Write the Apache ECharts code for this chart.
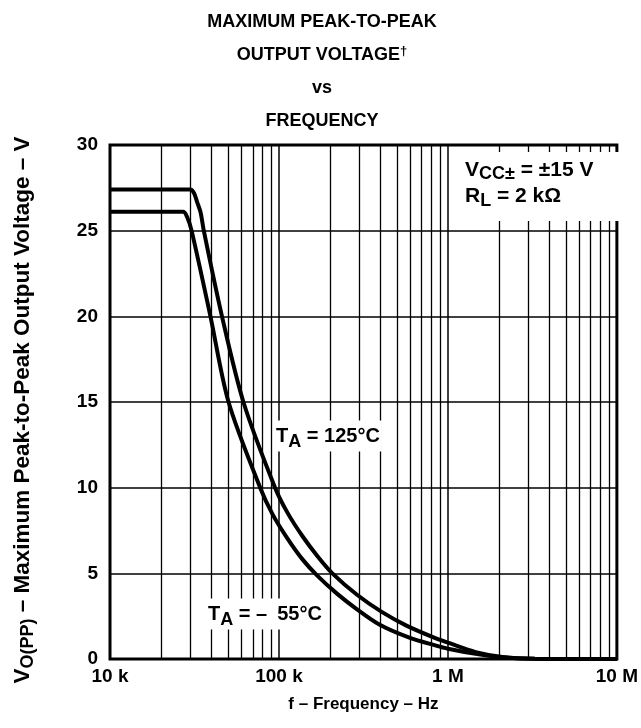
<!DOCTYPE html>
<html>
<head>
<meta charset="utf-8">
<script src="https://cdn.jsdelivr.net/npm/echarts@6/dist/echarts.min.js"></script>
<style>
html,body{margin:0;padding:0;background:#fff;}
#chart{width:641px;height:728px;}
</style>
</head>
<body>
<div id="chart"></div>
<script>
// ---- data ----
const freq125 = [10000, 29800, 31400, 32700, 34400, 35900, 46000, 61600, 94800, 112900, 138200, 169100, 207000, 289700, 405700, 568000, 851000, 1000000, 1460000, 2100000, 3270000, 10000000];
const volt125 = [27.4, 27.4, 27.2, 26.7, 26.05, 25.0, 20.0, 15.0, 10.0, 8.5, 7.15, 6.0, 5.0, 3.75, 2.75, 1.95, 1.2, 0.95, 0.4, 0.12, 0.02, 0];
const freqM55 = [10000, 27100, 28600, 30400, 39300, 50300, 77400, 92200, 112900, 138200, 169100, 221300, 289700, 395000, 591000, 851000, 1000000, 1460000, 2100000, 3270000, 10000000];
const voltM55 = [26.1, 26.1, 25.8, 25.0, 20.0, 15.0, 10.0, 8.4, 7.0, 5.8, 4.85, 3.8, 2.9, 2.0, 1.25, 0.78, 0.6, 0.3, 0.1, 0.02, 0];
const xTickValues = [10000, 100000, 1000000, 10000000];
const xTickLabels = ['10 k', '100 k', '1 M', '10 M'];
const minorGridFreqs = [];
[10000, 100000, 1000000].forEach(function (d) { for (let m = 2; m <= 9; m++) minorGridFreqs.push(d * m); });

const FONT = '"Liberation Sans", Arial, Helvetica, sans-serif';
const ES = '\u2002';
const chart = echarts.init(document.getElementById('chart'), null, {renderer: 'canvas'});

function pairs(xs, ys) { return xs.map(function (x, i) { return [x, ys[i]]; }); }
function subStyle(size, drop) {
  return { fontFamily: FONT, fontWeight: 'bold', fontSize: size, fill: '#000', color: '#000', padding: [drop, 0, 0, 0] };
}

const option = {
  backgroundColor: '#fff',
  animation: false,
  title: {
    text: 'MAXIMUM PEAK-TO-PEAK\nOUTPUT VOLTAGE{dag|†}\nvs\nFREQUENCY',
    left: 322, top: 6, textAlign: 'center', padding: 0,
    textStyle: {
      fontFamily: FONT, fontWeight: 'bold', fontSize: 18, color: '#000', lineHeight: 33,
      rich: { dag: { fontFamily: FONT, fontWeight: 'bold', fontSize: 13, color: '#000', padding: [0, 0, 8, 0] } }
    }
  },
  grid: { left: 110, top: 145, width: 513, height: 514, show: true, borderColor: '#000', borderWidth: 3, backgroundColor: 'transparent' },
  xAxis: {
    type: 'log', logBase: 10, min: 10000, max: 10000000,
    name: 'f – Frequency – Hz', nameLocation: 'middle', nameGap: 37,
    nameTextStyle: { fontFamily: FONT, fontWeight: 'bold', fontSize: 17, color: '#000' },
    axisLine: { show: false }, axisTick: { show: false },
    axisLabel: {
      fontFamily: FONT, fontWeight: 'bold', fontSize: 19, color: '#000', margin: 8,
      formatter: function (v) { const i = xTickValues.findIndex(function (t) { return Math.abs(t - v) / t < 1e-6; }); return i >= 0 ? xTickLabels[i] : ''; }
    },
    splitLine: { show: true, lineStyle: { color: '#000', width: 1.5 } }
  },
  yAxis: {
    type: 'value', min: 0, max: 30, interval: 5,
    name: 'V{sub|O(PP)} – Maximum Peak-to-Peak Output Voltage – V', nameLocation: 'middle', nameGap: 73, nameRotate: 90,
    nameTextStyle: { fontFamily: FONT, fontWeight: 'bold', fontSize: 22.5, color: '#000', padding: [0, 16, 0, 0],
      rich: { sub: subStyle(18, 11) } },
    axisLine: { show: false }, axisTick: { show: false },
    axisLabel: { fontFamily: FONT, fontWeight: 'bold', fontSize: 19, color: '#000', margin: 12 },
    splitLine: { show: true, lineStyle: { color: '#000', width: 1.5 } }
  },
  graphic: [
    { type: 'rect', z: 3, shape: { x: 458, y: 152, width: 163, height: 69 }, style: { fill: '#fff' } },
    { type: 'text', z: 4, x: 465, y: 170, style: {
        text: 'V{sub|CC±} = ±15 V', font: 'bold 21px ' + FONT, fill: '#000', verticalAlign: 'middle',
        rich: { sub: subStyle(18, 9) }
    } },
    { type: 'text', z: 4, x: 465, y: 196, style: {
        text: 'R{sub|L} = 2 kΩ', font: 'bold 21px ' + FONT, fill: '#000', verticalAlign: 'middle',
        rich: { sub: subStyle(18, 11) }
    } },
    { type: 'text', z: 3, x: 274, y: 436, style: {
        text: 'T{sub|A} = 125°C', font: 'bold 20px ' + FONT, fill: '#000', backgroundColor: '#fff', padding: [0, 2, 0, 2], verticalAlign: 'middle',
        rich: { sub: subStyle(18, 13) }
    } },
    { type: 'text', z: 3, x: 206, y: 614, style: {
        text: 'T{sub|A} = –' + ES + '55°C', font: 'bold 20px ' + FONT, fill: '#000', backgroundColor: '#fff', padding: [0, 2, 0, 2], verticalAlign: 'middle',
        rich: { sub: subStyle(18, 13) }
    } }
  ],
  series: [
    {
      name: 'TA = 125°C', type: 'line', z: 5, data: pairs(freq125, volt125),
      smooth: 0.3, showSymbol: false, symbol: 'none',
      lineStyle: { color: '#000', width: 4 },
      markLine: {
        z: 1, silent: true, symbol: ['none', 'none'], label: { show: false },
        lineStyle: { color: '#000', width: 1.3, type: 'solid' },
        emphasis: { disabled: true },
        data: minorGridFreqs.map(function (f) { return { xAxis: f }; })
      }
    },
    {
      name: 'TA = -55°C', type: 'line', z: 5, data: pairs(freqM55, voltM55),
      smooth: 0.3, showSymbol: false, symbol: 'none',
      lineStyle: { color: '#000', width: 4 }
    }
  ]
};
chart.setOption(option);
</script>
</body>
</html>
